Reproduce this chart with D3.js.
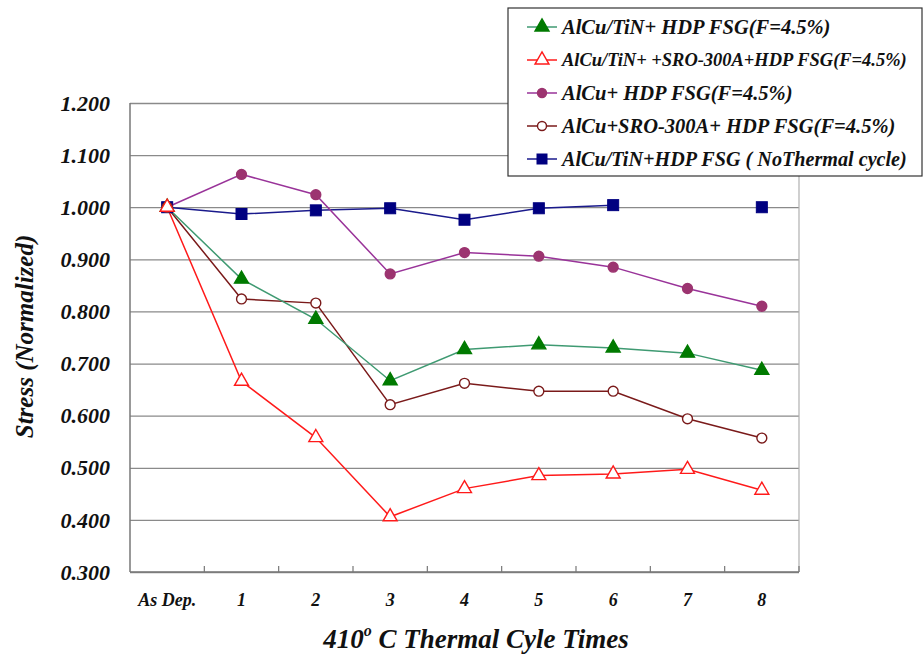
<!DOCTYPE html>
<html>
<head>
<meta charset="utf-8">
<script src="https://cdn.jsdelivr.net/npm/d3@7"></script>
<style>
  body { margin: 0; background: #fff; }
</style>
</head>
<body>
<div id="chart"></div>
<script>
// categories along the x axis
const categories = ['As Dep.', '1', '2', '3', '4', '5', '6', '7', '8'];
const yTicks = [0.3, 0.4, 0.5, 0.6, 0.7, 0.8, 0.9, 1.0, 1.1, 1.2];

// series values (null = no point)
const alcuTinHdp = [1.000, 0.862, 0.785, 0.667, 0.727, 0.736, 0.730, 0.720, 0.687];
const alcuTinSroHdp = [1.000, 0.666, 0.558, 0.406, 0.460, 0.485, 0.488, 0.497, 0.457];
const alcuHdp = [1.000, 1.063, 1.024, 0.872, 0.913, 0.906, 0.885, 0.844, 0.810];
const alcuSroHdp = [1.000, 0.824, 0.816, 0.621, 0.662, 0.647, 0.647, 0.594, 0.557];
const noThermal = [1.000, 0.987, 0.994, 0.998, 0.976, 0.998, 1.004, null, 1.000];

const seriesNames = [
    'AlCu/TiN+ HDP FSG(F=4.5%)',
    'AlCu/TiN+ +SRO-300A+HDP FSG(F=4.5%)',
    'AlCu+ HDP FSG(F=4.5%)',
    'AlCu+SRO-300A+ HDP FSG(F=4.5%)',
    'AlCu/TiN+HDP FSG ( NoThermal cycle)'
];

const series = [
    { name: seriesNames[0], values: alcuTinHdp, line: '#3f9a72', marker: 'triangle', fill: '#007a00', stroke: '#007a00' },
    { name: seriesNames[1], values: alcuTinSroHdp, line: '#ff1a1a', marker: 'triangle', fill: '#fff', stroke: '#ff1a1a' },
    { name: seriesNames[2], values: alcuHdp, line: '#993399', marker: 'circle', fill: '#9c3470', stroke: '#9c3470' },
    { name: seriesNames[3], values: alcuSroHdp, line: '#7a1a1a', marker: 'circle', fill: '#fff', stroke: '#7a1a1a' },
    { name: seriesNames[4], values: noThermal, line: '#1a1a8c', marker: 'square', fill: '#000080', stroke: '#000080' }
];

const FONT = "'Liberation Serif', 'Times New Roman', serif";

const width = 924, height = 655;
const margin = { top: 103, right: 125, bottom: 83, left: 130 };
const plotW = width - margin.left - margin.right;
const plotH = height - margin.top - margin.bottom;

const svg = d3.select('#chart').append('svg')
    .attr('width', width)
    .attr('height', height)
    .attr('font-family', FONT)
    .attr('font-weight', 'bold')
    .attr('font-style', 'italic');

const g = svg.append('g')
    .attr('transform', `translate(${margin.left},${margin.top})`);

const x = d3.scaleBand()
    .domain(categories)
    .range([0, plotW]);

const y = d3.scaleLinear()
    .domain([0.3, 1.2])
    .range([plotH, 0]);

// horizontal grid lines
g.append('g')
    .attr('class', 'grid')
    .call(d3.axisLeft(y)
        .tickValues(yTicks)
        .tickSize(-plotW)
        .tickFormat('')
    )
    .call(g => g.select('.domain').remove())
    .selectAll('line')
    .attr('stroke', '#8a8a8a')
    .attr('stroke-width', 1.3);

// right border
g.append('line')
    .attr('x1', plotW).attr('x2', plotW)
    .attr('y1', 0).attr('y2', plotH)
    .attr('stroke', '#b0b0b0')
    .attr('stroke-width', 1.2);

// left axis line
g.append('line')
    .attr('x1', 0).attr('x2', 0)
    .attr('y1', 0).attr('y2', plotH)
    .attr('stroke', '#777')
    .attr('stroke-width', 1.5);

// bottom axis with inward ticks at band edges
const bottom = g.append('g')
    .attr('transform', `translate(0,${plotH})`);

bottom.append('line')
    .attr('x1', 0).attr('x2', plotW)
    .attr('stroke', '#777')
    .attr('stroke-width', 1.5);

const edges = categories.map(c => x(c) + x.bandwidth());
bottom.selectAll('.tick-mark')
    .data(edges)
    .enter()
    .append('line')
    .attr('x1', d => d).attr('x2', d => d)
    .attr('y1', 0).attr('y2', -6)
    .attr('stroke', '#777')
    .attr('stroke-width', 1.2);

bottom.selectAll('.xlabel')
    .data(categories)
    .enter()
    .append('text')
    .attr('x', d => x(d) + x.bandwidth() / 2)
    .attr('y', 34)
    .attr('text-anchor', 'middle')
    .attr('font-size', 18)
    .attr('fill', '#111')
    .text(d => d);

// y tick labels
g.selectAll('.ylabel')
    .data(yTicks)
    .enter()
    .append('text')
    .attr('x', -20)
    .attr('y', d => y(d))
    .attr('dy', '0.35em')
    .attr('text-anchor', 'end')
    .attr('font-size', 22)
    .attr('fill', '#111')
    .text(d => d.toFixed(3));

// axis titles
svg.append('text')
    .attr('transform', `translate(33,${margin.top + plotH / 2 - 1}) rotate(-90)`)
    .attr('text-anchor', 'middle')
    .attr('font-size', 25)
    .attr('fill', '#111')
    .text('Stress (Normalized)');

const xTitle = svg.append('text')
    .attr('x', 476)
    .attr('y', 648)
    .attr('text-anchor', 'middle')
    .attr('font-size', 27)
    .attr('fill', '#111');
xTitle.append('tspan').text('410');
xTitle.append('tspan').attr('dy', -12).attr('font-size', 16).text('o');
xTitle.append('tspan').attr('dy', 12).text(' C Thermal Cyle Times');

// draw markers
function drawMarker(sel, s, size) {
    if (s.marker === 'circle') {
        sel.append('circle')
            .attr('r', size * 0.45)
            .attr('fill', s.fill)
            .attr('stroke', s.stroke)
            .attr('stroke-width', 1.4);
    } else if (s.marker === 'square') {
        sel.append('rect')
            .attr('x', -size / 2).attr('y', -size / 2)
            .attr('width', size).attr('height', size)
            .attr('fill', s.fill)
            .attr('stroke', s.stroke);
    } else {
        const sym = d3.symbol().type(d3.symbolTriangle).size(size * size * 0.5);
        sel.append('path')
            .attr('d', sym())
            .attr('fill', s.fill)
            .attr('stroke', s.stroke)
            .attr('stroke-width', 1.4);
    }
}

const line = d3.line()
    .defined(d => d.v !== null)
    .x(d => x(d.c) + x.bandwidth() / 2)
    .y(d => y(d.v));

// draw order: back to front roughly as in the figure
const drawOrder = [4, 2, 3, 0, 1];
drawOrder.forEach(i => {
    const s = series[i];
    const pts = categories.map((c, j) => ({ c: c, v: s.values[j] }));
    g.append('path')
        .datum(pts)
        .attr('fill', 'none')
        .attr('stroke', s.line)
        .attr('stroke-width', 1.5)
        .attr('d', line);
});
drawOrder.forEach(i => {
    const s = series[i];
    const pts = categories.map((c, j) => ({ c: c, v: s.values[j] })).filter(d => d.v !== null);
    g.selectAll(null)
        .data(pts)
        .enter()
        .append('g')
        .attr('transform', d => `translate(${x(d.c) + x.bandwidth() / 2},${y(d.v)})`)
        .each(function() { drawMarker(d3.select(this), s, s.marker === 'triangle' ? 13 : 11); });
});

// legend
const legend = svg.append('g')
    .attr('transform', 'translate(508,8)');

legend.append('rect')
    .attr('width', 414)
    .attr('height', 168)
    .attr('fill', '#fff')
    .attr('stroke', '#333')
    .attr('stroke-width', 1.2);

series.forEach((s, i) => {
    const item = legend.append('g')
        .attr('transform', `translate(0, ${19 + i * 33})`);
    item.append('line')
        .attr('x1', 19).attr('x2', 49)
        .attr('stroke', s.line)
        .attr('stroke-width', 1.5);
    const m = item.append('g').attr('transform', 'translate(34,0)');
    drawMarker(m, s, s.marker === 'triangle' ? 13 : 10);
    const t = item.append('text')
        .attr('x', 54)
        .attr('y', 0)
        .attr('dy', '0.35em')
        .attr('font-size', 20.5)
        .attr('fill', '#111')
        .text(s.name);
    // shrink long names so they stay inside the box
    const w = t.node().getComputedTextLength();
    if (w > 345) t.attr('font-size', (20.5 * 345 / w).toFixed(2));
});
</script>
</body>
</html>
